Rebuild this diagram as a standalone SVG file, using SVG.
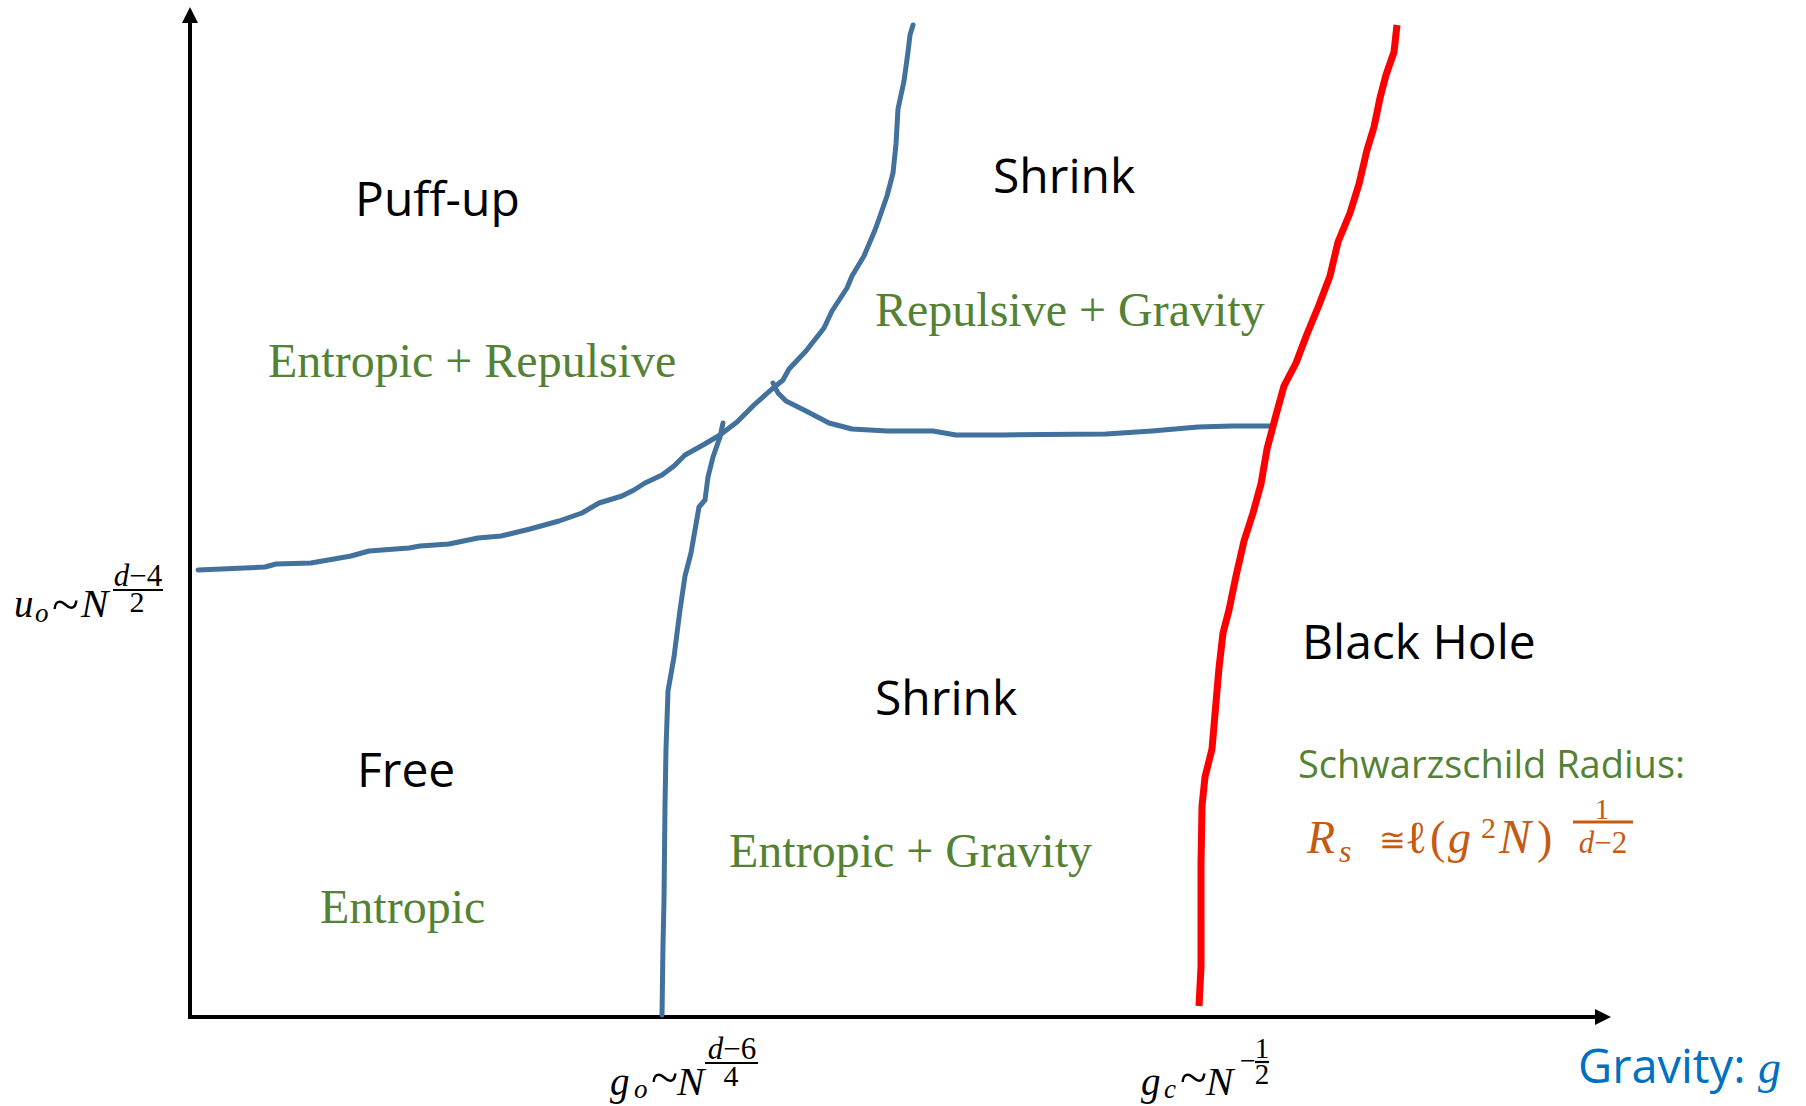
<svg xmlns="http://www.w3.org/2000/svg" width="1806" height="1106" viewBox="0 0 1806 1106">
<style>
.axis{stroke:#000;stroke-width:4;fill:none}
.blue{stroke:#41719C;stroke-width:5;fill:none;stroke-linejoin:round;stroke-linecap:round}
.red{stroke:#FF0000;stroke-width:7;fill:none;stroke-linejoin:round;stroke-linecap:butt}
.lbl{font-family:"Open Sans","Noto Sans",sans-serif;font-size:48px;fill:#000}
.grn{font-family:"Liberation Serif","Times New Roman",serif;font-size:48px;fill:#548235}
.m{font-family:"Liberation Serif","Times New Roman",serif;fill:#000}
.i{font-style:italic}
.or{fill:#C55A11}
</style>
<defs>
<marker id="arr" markerUnits="userSpaceOnUse" viewBox="0 0 16 16" markerWidth="16" markerHeight="16" refX="0" refY="8" orient="auto">
<path d="M0,0 L16,8 L0,16 z" fill="#000"/>
</marker>
</defs>
<rect width="1806" height="1106" fill="#fff"/>
<g id="axes">
<line class="axis" x1="190" y1="1017" x2="190" y2="23" marker-end="url(#arr)"/>
<line class="axis" x1="188" y1="1017" x2="1595" y2="1017" marker-end="url(#arr)"/>
</g>
<g id="connectors">
<polyline id="boundary-upper" class="blue" points="198,570 265,567 276,564 311,563 334,559 351,556 369,551 409,548 420,546 449,544 478,538 501,536 530,529 559,521 582,513 599,503 622,496 634,490 645,483 662,475 674,466 685,455 703,445 720,435 737,422 754,405 772,389 783,380 789,369 806,351 824,328 832,311 847,288 852,276 864,256 875,230 879,219 887,196 893,173 896,144 898,109 904,81 908,52 910,35 913,25"/>
<polyline id="boundary-horizontal" class="blue" points="773,383 778,393 786,401 806,411 829,423 852,429 887,431 933,431 956,435 1002,435 1106,434 1152,431 1198,427 1232,426 1272,426"/>
<polyline id="boundary-vertical" class="blue" points="723,423 720,437 713,457 708,477 705,500 699,507 691,553 685,576 680,610 674,657 668,691 666,749 665,806 664,900 663,945 662,1015"/>
<polyline id="schwarzschild" class="red" points="1397,25 1394,52 1386,75 1380,98 1374,127 1367,150 1359,184 1350,213 1338,242 1330,276 1319,305 1307,334 1296,363 1284,386 1276,415 1267,449 1261,484 1253,513 1244,541 1236,576 1229,610 1223,633 1219,668 1215,714 1212,749 1205,777 1202,806 1201,864 1201,921 1201,967 1199,1006"/>
</g>
<g id="region-puffup">
<text class="lbl" x="355" y="216">Puff-up</text>
<text class="grn" x="268" y="377">Entropic + Repulsive</text>
</g>
<g id="region-shrink-upper">
<text class="lbl" x="993" y="193">Shrink</text>
<text class="grn" x="875" y="326">Repulsive + Gravity</text>
</g>
<g id="region-free">
<text class="lbl" x="357" y="787">Free</text>
<text class="grn" x="320" y="923">Entropic</text>
</g>
<g id="region-shrink-lower">
<text class="lbl" x="875" y="715">Shrink</text>
<text class="grn" x="729" y="867">Entropic + Gravity</text>
</g>
<g id="region-blackhole">
<text class="lbl" x="1302" y="659">Black Hole</text>
<text x="1298" y="778" style="font-family:'Open Sans','Noto Sans',sans-serif;font-size:38px;fill:#548235">Schwarzschild Radius:</text>
<g id="formula-rs">
<text class="m i or" x="1307" y="853" font-size="46">R</text>
<text class="m i or" x="1339" y="862" font-size="32">s</text>
<text class="or" x="1379" y="851" font-size="32" style="font-family:'DejaVu Serif',serif">≅</text>
<text class="m or" x="1405" y="853" font-size="46">ℓ</text>
<text class="m or" x="1430" y="853" font-size="46">(</text>
<text class="m i or" x="1448" y="853" font-size="46">g</text>
<text class="m or" x="1481" y="838" font-size="30">2</text>
<text class="m i or" x="1499" y="853" font-size="48">N</text>
<text class="m or" x="1537" y="853" font-size="46">)</text>
<line x1="1573" y1="822" x2="1633" y2="822" stroke="#C55A11" stroke-width="3"/>
<text class="m or" x="1602" y="819" font-size="29" text-anchor="middle">1</text>
<text class="m or" x="1603" y="853" font-size="31" text-anchor="middle"><tspan class="i">d</tspan>−2</text>
</g>
</g>
<g id="label-uo">
<text class="m i" x="14" y="617" font-size="39">u</text>
<text class="m i" x="35" y="622" font-size="27">o</text>
<text class="m" x="52" y="621" font-size="50">~</text>
<text class="m i" x="81" y="617" font-size="41">N</text>
<line x1="113" y1="590" x2="163" y2="590" stroke="#000" stroke-width="2.2"/>
<text class="m" x="138" y="586" font-size="31" text-anchor="middle"><tspan class="i">d</tspan>−4</text>
<text class="m" x="137" y="612" font-size="30" text-anchor="middle">2</text>
</g>
<g id="label-go">
<text class="m i" x="610" y="1095" font-size="39">g</text>
<text class="m i" x="634" y="1098" font-size="27">o</text>
<text class="m" x="651" y="1094" font-size="50">~</text>
<text class="m i" x="677" y="1095" font-size="41">N</text>
<line x1="705" y1="1063" x2="758" y2="1063" stroke="#000" stroke-width="2.2"/>
<text class="m" x="732" y="1059" font-size="31" text-anchor="middle"><tspan class="i">d</tspan>−6</text>
<text class="m" x="731" y="1086" font-size="30" text-anchor="middle">4</text>
</g>
<g id="label-gc">
<text class="m i" x="1141" y="1095" font-size="39">g</text>
<text class="m i" x="1164" y="1098" font-size="27">c</text>
<text class="m" x="1180" y="1094" font-size="50">~</text>
<text class="m i" x="1206" y="1095" font-size="41">N</text>
<text class="m" x="1240" y="1070" font-size="28">−</text>
<line x1="1255" y1="1062" x2="1269" y2="1062" stroke="#000" stroke-width="2.2"/>
<text class="m" x="1262" y="1058" font-size="29" text-anchor="middle">1</text>
<text class="m" x="1262" y="1084" font-size="29" text-anchor="middle">2</text>
</g>
<g id="label-gravity">
<text x="1578" y="1083" style="font-family:'Open Sans','Noto Sans',sans-serif;font-size:47px;fill:#0070C0">Gravity:</text>
<text class="m i" x="1758" y="1083" font-size="46" style="fill:#0070C0">g</text>
</g>
</svg>
